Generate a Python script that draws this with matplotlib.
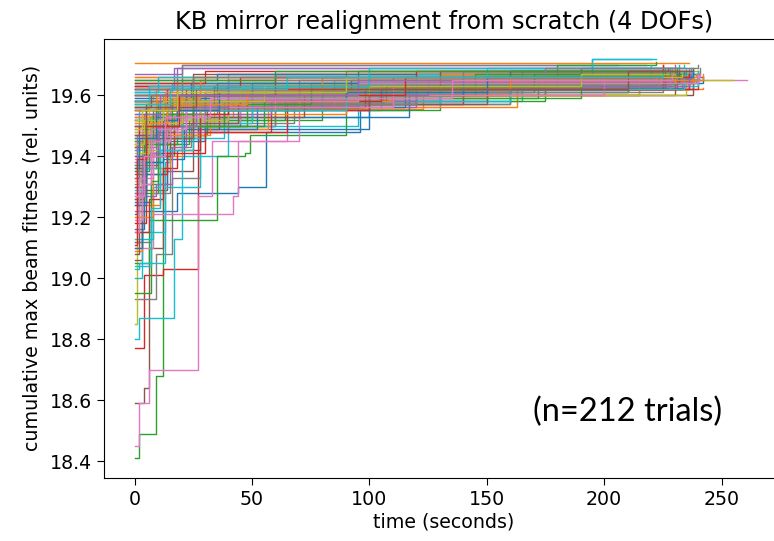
import matplotlib
matplotlib.use("Agg")
from matplotlib import pyplot as plt

# each trial: (time in seconds, cumulative max fitness) at every improvement,
# last pair = end of the trial
trials = [
    [(0, 19.12), (3, 19.22), (18, 19.28), (44, 19.30), (56, 19.48), (96, 19.55), (117, 19.60), (160, 19.66), (238, 19.66)],
    [(0, 19.705), (236, 19.705)],
    [(0, 18.41), (2, 18.49), (9, 18.68), (12, 19.40), (17, 19.46), (30, 19.52), (80, 19.60), (150, 19.66), (230, 19.68)],
    [(0, 18.77), (4, 19.01), (12, 19.03), (27, 19.50), (60, 19.57), (120, 19.63), (190, 19.67), (225, 19.67)],
    [(0, 19.30), (5, 19.52), (18, 19.69), (225, 19.70)],
    [(0, 18.59), (4, 18.64), (6, 19.10), (12, 19.35), (25, 19.55), (70, 19.61), (170, 19.66), (234, 19.66)],
    [(0, 18.45), (2, 18.59), (6, 18.70), (27, 19.27), (33, 19.45), (65, 19.55), (105, 19.62), (180, 19.65), (261, 19.65)],
    [(0, 18.93), (9, 19.08), (16, 19.33), (28, 19.50), (60, 19.58), (130, 19.64), (228, 19.67)],
    [(0, 18.85), (1, 19.25), (5, 19.48), (20, 19.56), (50, 19.61), (140, 19.65), (255, 19.65)],
    [(0, 18.80), (2, 18.87), (17, 19.13), (20, 19.40), (40, 19.50), (95, 19.58), (165, 19.66), (195, 19.72), (222, 19.72)],
    [(0, 19.56), (15, 19.60), (100, 19.65), (240, 19.66)],
    [(0, 19.45), (10, 19.55), (55, 19.555), (123, 19.60), (160, 19.66), (230, 19.66)],
    [(0, 19.05), (6, 19.19), (35, 19.40), (47, 19.41), (49, 19.47), (90, 19.55), (130, 19.63), (220, 19.68)],
    [(0, 19.62), (40, 19.65), (160, 19.66), (226, 19.66)],
    [(0, 19.40), (8, 19.52), (30, 19.60), (140, 19.64), (232, 19.68)],
    [(0, 19.06), (3, 19.29), (14, 19.46), (28, 19.57), (110, 19.64), (235, 19.66)],
    [(0, 19.10), (8, 19.21), (42, 19.27), (44, 19.45), (70, 19.56), (130, 19.62), (224, 19.66)],
    [(0, 19.58), (28, 19.63), (100, 19.67), (241, 19.69)],
    [(0, 19.20), (2, 19.45), (14, 19.55), (60, 19.63), (210, 19.67)],
    [(0, 19.03), (2, 19.05), (13, 19.30), (28, 19.53), (100, 19.60), (148, 19.64), (232, 19.70)],
    [(0, 19.38), (6, 19.47), (30, 19.53), (117, 19.62), (238, 19.67)],
    [(0, 19.35), (4, 19.50), (25, 19.56), (163, 19.62), (242, 19.625)],
    [(0, 19.60), (35, 19.62), (190, 19.625), (234, 19.65), (241, 19.65)],
    [(0, 19.55), (16, 19.58), (80, 19.61), (160, 19.63), (215, 19.66), (230, 19.66)],
    [(0, 19.67), (20, 19.70), (218, 19.70)],
    [(0, 19.44), (20, 19.56), (95, 19.62), (236, 19.67)],
    [(0, 19.53), (10, 19.58), (75, 19.63), (230, 19.65)],
    [(0, 19.62), (20, 19.70), (206, 19.70)],
    [(0, 19.45), (5, 19.55), (70, 19.62), (180, 19.68), (240, 19.68)],
    [(0, 19.00), (3, 19.15), (13, 19.38), (15, 19.52), (50, 19.57), (106, 19.62), (200, 19.65), (235, 19.69)],
    [(0, 19.25), (7, 19.45), (30, 19.49), (100, 19.57), (160, 19.64), (235, 19.66)],
    [(0, 19.66), (90, 19.68), (230, 19.69)],
    [(0, 19.62), (95, 19.68), (180, 19.70), (222, 19.71)],
    [(0, 19.58), (60, 19.61), (110, 19.62), (158, 19.64), (232, 19.65)],
    [(0, 19.50), (12, 19.58), (50, 19.62), (225, 19.66)],
    [(0, 19.34), (5, 19.47), (20, 19.58), (130, 19.65), (240, 19.67)],
    [(0, 19.50), (15, 19.56), (55, 19.62), (205, 19.66), (226, 19.66)],
    [(0, 19.36), (3, 19.41), (12, 19.52), (38, 19.58), (140, 19.64), (238, 19.66)],
    [(0, 19.64), (25, 19.66), (226, 19.67)],
    [(0, 19.55), (22, 19.58), (100, 19.60), (118, 19.64), (237, 19.69)],
    [(0, 19.16), (4, 19.31), (14, 19.50), (45, 19.56), (95, 19.64), (242, 19.66)],
    [(0, 19.42), (3, 19.48), (10, 19.53), (42, 19.58), (110, 19.63), (226, 19.65)],
    [(0, 19.28), (10, 19.44), (18, 19.47), (31, 19.55), (90, 19.60), (145, 19.66), (236, 19.67)],
    [(0, 19.33), (5, 19.40), (12, 19.48), (65, 19.57), (100, 19.60), (175, 19.63), (222, 19.65)],
    [(0, 19.22), (3, 19.36), (9, 19.48), (40, 19.56), (120, 19.63), (228, 19.66)],
    [(0, 19.60), (35, 19.64), (233, 19.66)],
    [(0, 19.46), (4, 19.52), (40, 19.59), (150, 19.63), (227, 19.64)],
    [(0, 19.12), (7, 19.28), (15, 19.43), (24, 19.51), (68, 19.58), (150, 19.65), (238, 19.66)],
    [(0, 19.37), (2, 19.44), (8, 19.50), (34, 19.57), (95, 19.62), (230, 19.65)],
    [(0, 19.57), (12, 19.60), (85, 19.65), (195, 19.72), (220, 19.72)],
    [(0, 19.64), (60, 19.67), (238, 19.68)],
    [(0, 19.09), (3, 19.24), (11, 19.40), (20, 19.49), (57, 19.57), (120, 19.62), (230, 19.67)],
    [(0, 19.26), (4, 19.38), (10, 19.44), (23, 19.52), (64, 19.58), (175, 19.65), (240, 19.68)],
    [(0, 19.18), (5, 19.34), (14, 19.41), (17, 19.49), (36, 19.55), (100, 19.60), (215, 19.66), (232, 19.66)],
    [(0, 19.56), (20, 19.60), (70, 19.63), (235, 19.65)],
    [(0, 19.52), (8, 19.55), (30, 19.60), (230, 19.64)],
    [(0, 19.39), (6, 19.46), (18, 19.51), (45, 19.58), (150, 19.65), (234, 19.67)],
    [(0, 19.47), (14, 19.53), (50, 19.57), (160, 19.62), (228, 19.65)],
    [(0, 19.58), (8, 19.60), (105, 19.64), (222, 19.66)],
    [(0, 19.13), (8, 19.30), (11, 19.46), (38, 19.55), (80, 19.61), (165, 19.68), (228, 19.69)],
    [(0, 19.10), (3, 19.34), (12, 19.39), (21, 19.49), (52, 19.56), (115, 19.61), (210, 19.67), (240, 19.67)],
    [(0, 19.20), (8, 19.36), (15, 19.47), (32, 19.54), (90, 19.60), (200, 19.66), (236, 19.66)],
    [(0, 19.52), (10, 19.57), (45, 19.61), (210, 19.64), (230, 19.64)],
    [(0, 19.24), (2, 19.36), (8, 19.41), (30, 19.48), (58, 19.57), (140, 19.62), (231, 19.65)],
    [(0, 19.48), (7, 19.53), (25, 19.59), (130, 19.66), (236, 19.68)],
    [(0, 19.30), (4, 19.37), (10, 19.48), (17, 19.53), (72, 19.60), (238, 19.65)],
    [(0, 19.59), (50, 19.62), (120, 19.64), (222, 19.67)],
    [(0, 19.43), (9, 19.49), (18, 19.57), (100, 19.62), (233, 19.65)],
    [(0, 19.32), (3, 19.42), (13, 19.52), (40, 19.60), (215, 19.66)],
    [(0, 19.47), (2, 19.55), (35, 19.58), (160, 19.62), (200, 19.64), (239, 19.65)],
    [(0, 19.61), (50, 19.64), (220, 19.66)],
    [(0, 19.66), (40, 19.67), (232, 19.67)],
    [(0, 19.35), (6, 19.44), (12, 19.50), (38, 19.56), (85, 19.63), (225, 19.69)],
    [(0, 19.15), (6, 19.26), (12, 19.36), (18, 19.42), (28, 19.56), (98, 19.62), (240, 19.66)],
    [(0, 19.27), (9, 19.31), (16, 19.43), (22, 19.54), (58, 19.58), (120, 19.64), (220, 19.66)],
    [(0, 19.40), (5, 19.46), (14, 19.55), (48, 19.58), (107, 19.63), (230, 19.66)],
    [(0, 19.52), (22, 19.59), (150, 19.63), (215, 19.64)],
    [(0, 19.55), (6, 19.60), (75, 19.64), (237, 19.66)],
    [(0, 19.51), (12, 19.56), (70, 19.60), (235, 19.64)],
    [(0, 19.42), (5, 19.52), (18, 19.56), (95, 19.58), (104, 19.62), (225, 19.66)],
    [(0, 19.63), (110, 19.66), (242, 19.66)],
    [(0, 19.60), (18, 19.64), (100, 19.66), (226, 19.68)],
    [(0, 19.45), (10, 19.50), (48, 19.59), (172, 19.66), (233, 19.66)],
    [(0, 19.58), (22, 19.62), (92, 19.65), (236, 19.66)],
    [(0, 19.53), (15, 19.56), (60, 19.62), (221, 19.65)],
    [(0, 19.63), (25, 19.67), (230, 19.68)],
    [(0, 19.38), (4, 19.45), (14, 19.50), (30, 19.56), (85, 19.62), (228, 19.66)],
    [(0, 19.50), (4, 19.54), (35, 19.61), (225, 19.65)],
    [(0, 19.57), (30, 19.61), (150, 19.65), (233, 19.67)],
    [(0, 19.29), (4, 19.36), (10, 19.42), (25, 19.51), (50, 19.57), (130, 19.63), (240, 19.68)],
    [(0, 19.65), (35, 19.67), (190, 19.69), (234, 19.69)],
    [(0, 19.44), (6, 19.51), (20, 19.58), (110, 19.64), (238, 19.66)],
    [(0, 19.56), (16, 19.59), (115, 19.63), (230, 19.65)],
    [(0, 19.49), (15, 19.54), (40, 19.58), (105, 19.62), (225, 19.65)],
    [(0, 19.60), (70, 19.65), (233, 19.67)],
    [(0, 19.26), (3, 19.40), (15, 19.51), (44, 19.57), (150, 19.64), (232, 19.66)],
    [(0, 19.63), (40, 19.66), (237, 19.68)],
    [(0, 19.54), (20, 19.57), (120, 19.63), (236, 19.66)],
    [(0, 19.48), (7, 19.53), (28, 19.58), (95, 19.64), (230, 19.67)],
    [(0, 19.61), (16, 19.64), (120, 19.67), (238, 19.69)],
    [(0, 19.21), (1, 19.44), (6, 19.53), (22, 19.60), (140, 19.66), (231, 19.68)],
    [(0, 19.57), (9, 19.62), (130, 19.67), (229, 19.69)],
    [(0, 18.95), (7, 19.32), (10, 19.50), (55, 19.59), (190, 19.66), (236, 19.67)],
    [(0, 19.43), (2, 19.50), (14, 19.62), (236, 19.66)],
    [(0, 19.62), (17, 19.69), (230, 19.70)],
    [(0, 19.08), (2, 19.28), (5, 19.46), (25, 19.56), (100, 19.62), (226, 19.68)],
    [(0, 19.46), (3, 19.55), (60, 19.60), (200, 19.66), (241, 19.67)],
    [(0, 19.31), (2, 19.45), (9, 19.54), (30, 19.61), (160, 19.68), (236, 19.69)],
    [(0, 19.52), (6, 19.58), (45, 19.64), (224, 19.67)],
    [(0, 19.04), (7, 19.23), (11, 19.42), (20, 19.55), (90, 19.62), (234, 19.68)],
    [(0, 19.59), (24, 19.64), (160, 19.68), (233, 19.68)],
    [(0, 19.55), (13, 19.61), (80, 19.66), (239, 19.67)],
    [(0, 19.37), (4, 19.49), (16, 19.57), (75, 19.62), (145, 19.67), (228, 19.68)],
    [(0, 19.64), (30, 19.68), (225, 19.70)],
    [(0, 19.28), (3, 19.41), (10, 19.50), (26, 19.60), (125, 19.65), (237, 19.67)],
    [(0, 19.50), (5, 19.57), (34, 19.63), (130, 19.68), (238, 19.69)],
    [(0, 19.15), (2, 19.33), (8, 19.45), (15, 19.56), (110, 19.65), (222, 19.66)],
    [(0, 19.58), (40, 19.63), (180, 19.67), (235, 19.68)],
    [(0, 19.41), (6, 19.51), (20, 19.60), (100, 19.65), (228, 19.66)],
    [(0, 19.61), (10, 19.66), (150, 19.69), (220, 19.70)],
    [(0, 19.24), (5, 19.38), (12, 19.52), (18, 19.59), (90, 19.64), (232, 19.66)],
    [(0, 19.53), (9, 19.59), (28, 19.65), (242, 19.67)],
    [(0, 19.46), (8, 19.54), (25, 19.63), (170, 19.67), (234, 19.68)],
    [(0, 19.63), (45, 19.66), (120, 19.68), (227, 19.69)],
    [(0, 19.33), (1, 19.47), (11, 19.56), (40, 19.63), (236, 19.67)],
    [(0, 19.56), (7, 19.60), (60, 19.66), (232, 19.68)],
    [(0, 19.19), (3, 19.31), (7, 19.49), (22, 19.58), (95, 19.64), (240, 19.67)],
    [(0, 19.60), (20, 19.65), (140, 19.68), (226, 19.69)],
    [(0, 19.44), (4, 19.52), (12, 19.58), (55, 19.63), (190, 19.67), (230, 19.67)],
    [(0, 19.58), (6, 19.63), (100, 19.69), (234, 19.70)],
    [(0, 19.36), (2, 19.46), (9, 19.55), (36, 19.61), (150, 19.66), (238, 19.68)],
    [(0, 19.51), (14, 19.57), (48, 19.62), (160, 19.66), (223, 19.66)],
    [(0, 19.65), (60, 19.68), (231, 19.69)],
    [(0, 19.11), (1, 19.39), (5, 19.50), (19, 19.60), (115, 19.66), (236, 19.67)],
    [(0, 19.54), (11, 19.60), (95, 19.65), (228, 19.67)],
    [(0, 19.47), (5, 19.56), (26, 19.62), (210, 19.68), (237, 19.68)],
    [(0, 19.27), (4, 19.40), (13, 19.53), (32, 19.59), (135, 19.65), (229, 19.67)],
    [(0, 19.62), (25, 19.66), (175, 19.69), (240, 19.70)],
    [(0, 19.49), (3, 19.55), (18, 19.61), (90, 19.66), (233, 19.67)],
    [(0, 19.57), (15, 19.62), (65, 19.66), (225, 19.67)],
]
n_trials = 212

fig = plt.figure(figsize=(7.74, 5.41), dpi=100)
ax = fig.add_axes([0.1344, 0.1165, 0.878, 0.812])

for trial in trials:
    t, v = zip(*trial)
    ax.plot(t, v, drawstyle="steps-post", lw=1.0)

ax.set_xlim(-13, 276.4)
# the original picture is cut off just before the right frame
ax.spines["right"].set_visible(False)
ax.set_title("KB mirror realignment from scratch (4 DOFs)", fontsize=17.3, pad=7)
ax.set_xlabel("time (seconds)", fontsize=13.7, labelpad=3)
ax.set_ylabel("cumulative max beam fitness (rel. units)", fontsize=13.7, labelpad=6)
ax.tick_params(labelsize=13.7, length=5)
ax.set_xticks([0, 50, 100, 150, 200, 250])
ax.text(0.77, 0.15, "(n=%d trials)" % n_trials, transform=ax.transAxes,
        ha="center", va="center", fontsize=23.5, family="Lato")

plt.savefig("out.png", dpi=100)
